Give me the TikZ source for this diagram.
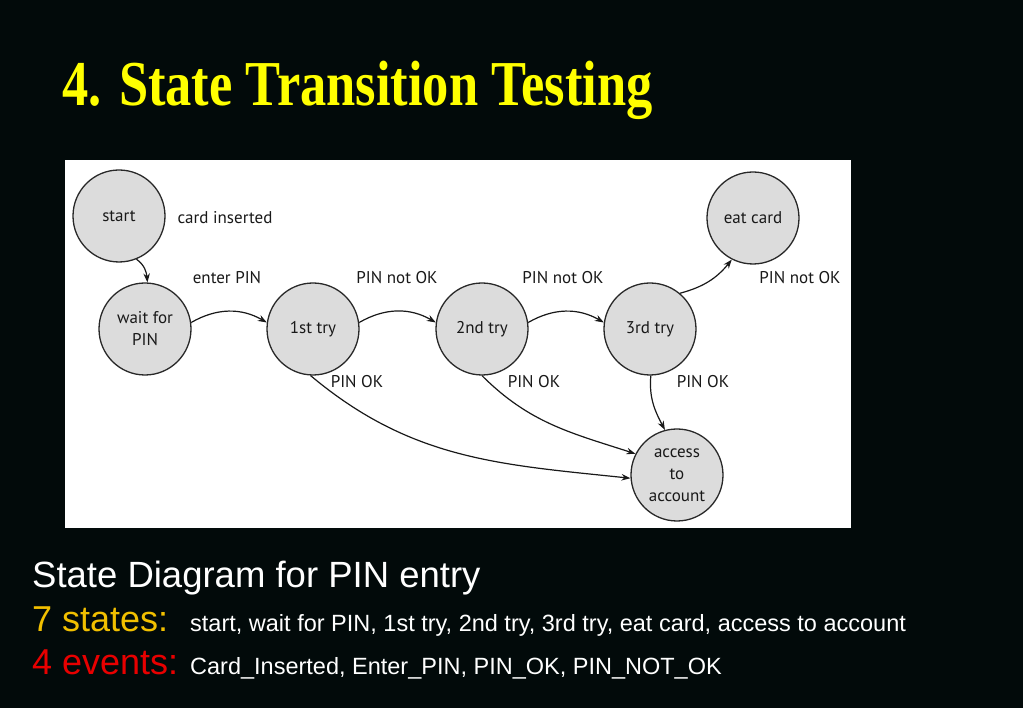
\documentclass[tikz,border=0pt]{standalone}
\usepackage{fontspec}
\usepackage{graphicx}
\setmainfont{Liberation Serif}
\setsansfont{Liberation Sans}
\newfontfamily\diagfont{PT Sans}
\usetikzlibrary{arrows.meta}

% slide colours
\definecolor{slideBg}{RGB}{2,10,10}
\definecolor{titleYellow}{RGB}{255,255,0}
\definecolor{statesYellow}{RGB}{242,192,0}
\definecolor{eventsRed}{RGB}{232,0,0}
\definecolor{stateFill}{RGB}{220,220,220}
\definecolor{stateLine}{RGB}{40,40,40}
\definecolor{diagText}{RGB}{25,25,25}

\tikzset{
  state/.style={circle, draw=stateLine, fill=stateFill, line width=1.3pt,
    minimum size=92pt, inner sep=0pt, align=center, text=diagText,
    font=\diagfont\fontsize{17}{22}\selectfont},
  event/.style={inner sep=0pt, text=diagText, font=\diagfont\fontsize{17}{20}\selectfont},
  trans/.style={draw=diagText, line width=1.2pt, -{Stealth[length=9pt,width=6.5pt]}},
  slidetext/.style={anchor=base west, inner sep=0pt, font=\sffamily}
}

\begin{document}
\begin{tikzpicture}[x=1pt, y=1pt]
  % Slide background
  \useasboundingbox (0,0) rectangle (1023,708);
  \fill[slideBg] (0,0) rectangle (1023,708);
  % Title
  \node[anchor=base west, inner sep=0pt, text=titleYellow,
    font=\rmfamily\bfseries\fontsize{64}{70}\selectfont] (title) at (62,602)
    {\scalebox{0.82}[1]{4. State Transition Testing}};
  % White panel of the diagram
  \fill[white] (65,180) rectangle (851,548);
  % States
  \node[state] (start)  at (119,492) {start};
  \node[state] (wait)   at (145,379) {wait for\\PIN};
  \node[state] (try1)   at (313,379) {1st try};
  \node[state] (try2)   at (482,379) {2nd try};
  \node[state] (try3)   at (650,379) {3rd try};
  \node[state] (eat)    at (753,490) {eat card};
  \node[state] (access) at (677,233) {access\\to\\account};
  % Events
  \node[event] (evCard)  at (225,490) {card inserted};
  \node[event] (evEnter) at (227,430) {enter PIN};
  \node[event] (evNot1)  at (397,430) {PIN not OK};
  \node[event] (evNot2)  at (563,430) {PIN not OK};
  \node[event] (evNot3)  at (800,430) {PIN not OK};
  \node[event] (evOk1)   at (357,326) {PIN OK};
  \node[event] (evOk2)   at (534,326) {PIN OK};
  \node[event] (evOk3)   at (703,326) {PIN OK};
  % Transitions
  \draw[trans] (start.-68) to[out=-35, in=95] (wait.87);
  \draw[trans] (wait.8) to[bend left=30] (try1.172);
  \draw[trans] (try1.8) to[bend left=30] (try2.172);
  \draw[trans] (try2.8) to[bend left=30] (try3.172);
  \draw[trans] (try3.50) to[bend right=18] (eat.243);
  \draw[trans] (try1.-93) to[out=-40, in=174] (access.184);
  \draw[trans] (try2.-90) to[out=-45, in=162] (access.153);
  \draw[trans] (try3.-89) to[out=-95, in=118] (access.105);
  % Caption lines
  \node[slidetext, text=white, font=\sffamily\fontsize{36.5}{40}\selectfont] (capTitle) at (32,120)
    {State Diagram for PIN entry};
  \node[slidetext, text=statesYellow, font=\sffamily\fontsize{36}{40}\selectfont] (capStates) at (32,76)
    {7 states:};
  \node[slidetext, text=white, font=\sffamily\fontsize{23.5}{26}\selectfont] (listStates) at (190,76)
    {start, wait for PIN, 1st try, 2nd try, 3rd try, eat card, access to account};
  \node[slidetext, text=eventsRed, font=\sffamily\fontsize{36}{40}\selectfont] (capEvents) at (32,33)
    {4 events:};
  \node[slidetext, text=white, font=\sffamily\fontsize{23.5}{26}\selectfont] (listEvents) at (190,33)
    {Card\_Inserted, Enter\_PIN, PIN\_OK, PIN\_NOT\_OK};
\end{tikzpicture}
\end{document}
